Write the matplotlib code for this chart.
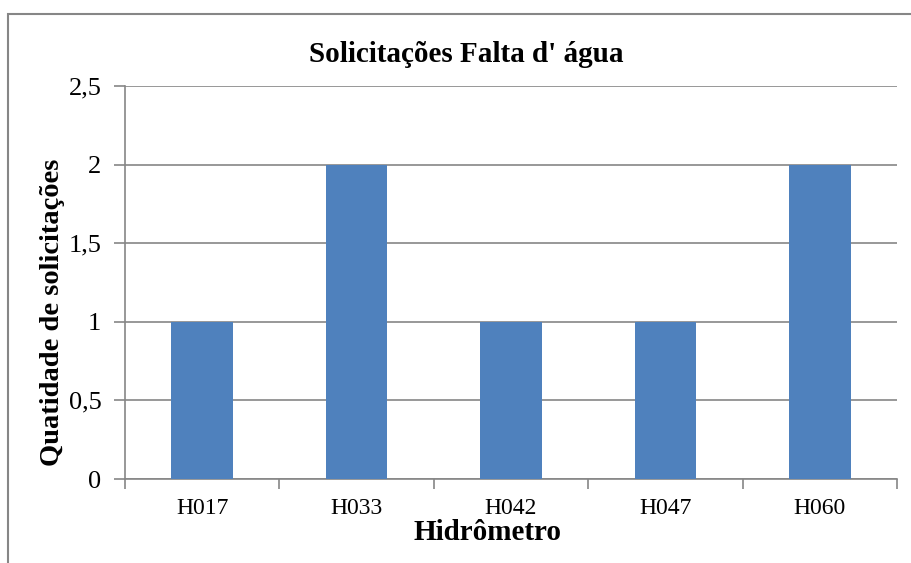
import matplotlib
matplotlib.use('Agg')
import matplotlib.pyplot as plt
from matplotlib.patches import Rectangle

# Data
hidrometros = ['H017', 'H033', 'H042', 'H047', 'H060']
solicitacoes = [1, 2, 1, 1, 2]
yticks = [0, 0.5, 1, 1.5, 2, 2.5]
ytick_labels = ['0', '0,5', '1', '1,5', '2', '2,5']

plt.rcParams['font.family'] = ['Liberation Serif', 'DejaVu Serif']

fig = plt.figure(figsize=(9.12, 5.63), dpi=100)
ax = fig.add_axes([125/912, 1 - 479/563, (897 - 125)/912, (479 - 86)/563])

grey = '#868686'
x = range(len(hidrometros))
ax.bar(x, solicitacoes, width=0.4, color='#4F81BD', zorder=3)

ax.set_xlim(-0.5, len(hidrometros) - 0.5)
ax.set_ylim(0, 2.5)
ax.set_yticks(yticks)
ax.set_yticklabels(ytick_labels, fontsize=19)
ax.yaxis.grid(True, color=grey, linewidth=1.2, zorder=0)

# category ticks between bars
ax.set_xticks([i - 0.5 for i in range(len(hidrometros) + 1)])
ax.set_xticklabels([])
ax.set_xticks(list(x), minor=True)
ax.set_xticklabels(hidrometros, minor=True, fontsize=17)
ax.tick_params(axis='x', which='major', length=7, color=grey, width=1.2)
ax.tick_params(axis='x', which='minor', length=0, pad=14)
ax.tick_params(axis='y', length=8, color=grey, width=1.2, pad=9)

for s in ['top', 'right']:
    ax.spines[s].set_visible(False)
for s in ['left', 'bottom']:
    ax.spines[s].set_color(grey)
    ax.spines[s].set_linewidth(1.2)

fig.text(466/912, 1 - 55/563, "Solicitações Falta d' água", ha='center', va='center',
         fontsize=21, fontweight='bold')
fig.text(488/912, 1 - 533/563, 'Hidrômetro', ha='center', va='center',
         fontsize=21, fontweight='bold')
fig.text(53/912, 1 - 312/563, 'Quatidade de solicitações', ha='center', va='center',
         rotation=90, fontsize=20.5, fontweight='bold')

# chart area border (cropped at right and bottom)
fig.patches.append(Rectangle((8/912, -0.1), 1.1, 1 - 14/563 + 0.1,
                             transform=fig.transFigure, fill=False,
                             edgecolor=grey, linewidth=1.5))

fig.savefig('out.png', dpi=100)
